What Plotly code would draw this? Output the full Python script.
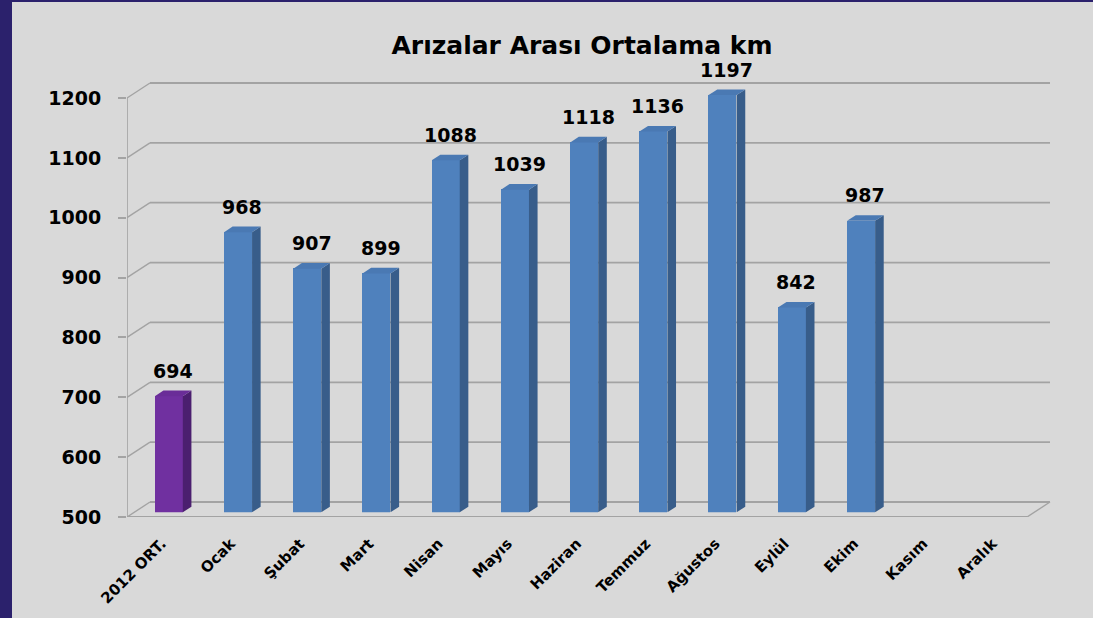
import plotly.graph_objects as go

# ---------------- data ----------------
categories = ["2012 ORT.", "Ocak", "Şubat", "Mart", "Nisan", "Mayıs", "Haziran",
              "Temmuz", "Ağustos", "Eylül", "Ekim", "Kasım", "Aralık"]
values = [694, 968, 907, 899, 1088, 1039, 1118, 1136, 1197, 842, 987, None, None]
y_ticks = [500, 600, 700, 800, 900, 1000, 1100, 1200]
title_text = "Arızalar Arası Ortalama km"

# ---------------- geometry (pixels) ----------------
W, H = 1093, 618
FRONT_L, FRONT_R = 127, 1027          # front plane x extent
BASE_PX, TOP_PX = 517, 98             # pixel of y_ticks[0] and y_ticks[-1]
PPX = (FRONT_R - FRONT_L) / len(categories)       # px per category
PPU = (BASE_PX - TOP_PX) / (y_ticks[-1] - y_ticks[0])  # px per value unit
DOM_R, DOM_T = 1062, 76
BACK_DX, BACK_DY = 23, -15            # depth of wall
BAR_DX, BAR_DY = 7.2, -4.7            # bar front plane offset
SIDE_DX, SIDE_DY = 8.6, -5.6          # bar depth
BAR_W_PX = 28

YMIN = y_ticks[0]
x_r0 = -0.5
x_r1 = x_r0 + (DOM_R - FRONT_L) / PPX
y_r1 = YMIN + (BASE_PX - DOM_T) / PPU

def fx(px):
    return px / W

def fy(py):
    return 1 - py / H

GRID = "#a3a3a3"
BLUE_F, BLUE_S, BLUE_T = "#4f81bd", "#385d8a", "#4a79b3"
PURP_F, PURP_S, PURP_T = "#7030a0", "#4b1f6f", "#6a2d98"

fig = go.Figure()

front_cols = [PURP_F] + [BLUE_F] * (len(categories) - 1)
side_cols = [PURP_S] + [BLUE_S] * (len(categories) - 1)
top_cols = [PURP_T] + [BLUE_T] * (len(categories) - 1)
idx = list(range(len(categories)))
bw = BAR_W_PX / PPX
fig.add_trace(go.Bar(x=idx, y=values, width=bw, marker=dict(color=front_cols, line=dict(width=0)),
                     xaxis="x2", yaxis="y2", showlegend=False, hoverinfo="skip"))

fig.add_trace(go.Scatter(x=[0], y=[YMIN], mode="markers", marker=dict(opacity=0),
                         xaxis="x", yaxis="y", showlegend=False, hoverinfo="skip"))

shapes = []
bdx = BACK_DX / PPX
bdy = -BACK_DY / PPU
x_left, x_right = -0.5, len(categories) - 0.5
for v in y_ticks:
    shapes.append(dict(type="line", xref="x", yref="y", x0=x_left + bdx, x1=x_right + bdx,
                       y0=v + bdy, y1=v + bdy, line=dict(color=GRID, width=1.8), layer="below"))
    shapes.append(dict(type="line", xref="x", yref="y", x0=x_left, x1=x_left + bdx,
                       y0=v, y1=v + bdy, line=dict(color=GRID, width=1.4), layer="below"))
shapes.append(dict(type="line", xref="x", yref="y", x0=x_left, x1=x_right, y0=YMIN, y1=YMIN,
                   line=dict(color=GRID, width=1.8), layer="below"))
shapes.append(dict(type="line", xref="x", yref="y", x0=x_right, x1=x_right + bdx, y0=YMIN, y1=YMIN + bdy,
                   line=dict(color=GRID, width=1.4), layer="below"))
shapes.append(dict(type="line", xref="x", yref="y", x0=x_left, x1=x_left, y0=YMIN, y1=y_ticks[-1],
                   line=dict(color=GRID, width=1.6), layer="below"))

sdx = SIDE_DX / PPX
sdy = -SIDE_DY / PPU
for i, v in enumerate(values):
    if v is None:
        continue
    xr = i + bw / 2
    xl = i - bw / 2
    side = f"M {xr},{YMIN} L {xr},{v} L {xr + sdx},{v + sdy} L {xr + sdx},{YMIN + sdy} Z"
    top = f"M {xl},{v} L {xr},{v} L {xr + sdx},{v + sdy} L {xl + sdx},{v + sdy} Z"
    shapes.append(dict(type="path", path=side, xref="x2", yref="y2", fillcolor=side_cols[i],
                       line=dict(width=0), layer="above"))
    shapes.append(dict(type="path", path=top, xref="x2", yref="y2", fillcolor=top_cols[i],
                       line=dict(width=0), layer="above"))

shapes.append(dict(type="rect", xref="paper", yref="paper", x0=0, x1=fx(12), y0=0, y1=1,
                   fillcolor="#2b216c", line=dict(width=0), layer="above"))
shapes.append(dict(type="rect", xref="paper", yref="paper", x0=0, x1=1, y0=fy(2), y1=1,
                   fillcolor="#2b216c", line=dict(width=0), layer="above"))

annotations = []
for i, v in enumerate(values):
    if v is None:
        continue
    annotations.append(dict(x=i + sdx / 2, y=v + sdy, xref="x2", yref="y2", text=str(v),
                            showarrow=False, yanchor="bottom", xanchor="center", yshift=7,
                            font=dict(family="DejaVu Sans", size=19, color="#000000", weight="bold")))

fig.update_layout(
    width=W, height=H, autosize=False,
    margin=dict(l=0, r=0, t=0, b=0, autoexpand=False),
    paper_bgcolor="#d9d9d9", plot_bgcolor="rgba(0,0,0,0)",
    title=dict(text=f"<b>{title_text}</b>", x=fx(582), y=fy(45), xanchor="center", yanchor="middle",
               font=dict(family="DejaVu Sans", size=25, color="#000000")),
    xaxis=dict(domain=[fx(FRONT_L), fx(DOM_R)], range=[x_r0, x_r1], tickvals=idx, ticktext=categories,
               tickangle=-45, ticks="", showline=False, showgrid=False, zeroline=False, anchor="y",
               tickfont=dict(family="DejaVu Sans", size=15, color="#000000", weight="bold"),
               ticklabelstandoff=14),
    xaxis3=dict(overlaying="x", range=[x_r0, x_r1], tickvals=[i - 0.5 for i in range(len(categories) + 1)],
                ticks="outside", ticklen=7, tickwidth=1.5, tickcolor=GRID, showticklabels=False,
                showline=False, showgrid=False, zeroline=False, anchor="y", side="bottom"),
    yaxis=dict(domain=[fy(BASE_PX), fy(DOM_T)], range=[YMIN, y_r1], tickvals=y_ticks,
               ticks="outside", ticklen=8, tickwidth=1.5, tickcolor=GRID, showline=False,
               showgrid=False, zeroline=False, anchor="x", ticklabelstandoff=13,
               tickfont=dict(family="DejaVu Sans", size=19, color="#000000", weight="bold")),
    xaxis2=dict(domain=[fx(FRONT_L + BAR_DX), min(1.0, fx(DOM_R + BAR_DX))],
                range=[x_r0, x_r0 + (min(W, DOM_R + BAR_DX) - FRONT_L - BAR_DX) / PPX],
                visible=False, anchor="y2"),
    yaxis2=dict(domain=[fy(BASE_PX + BAR_DY), fy(DOM_T + BAR_DY)], range=[YMIN, y_r1],
                visible=False, anchor="x2"),
    shapes=shapes, annotations=annotations, bargap=0,
)

fig.write_html("out.html", config={"displayModeBar": False},
               post_script="document.body.style.margin='0';document.body.style.overflow='hidden';")
